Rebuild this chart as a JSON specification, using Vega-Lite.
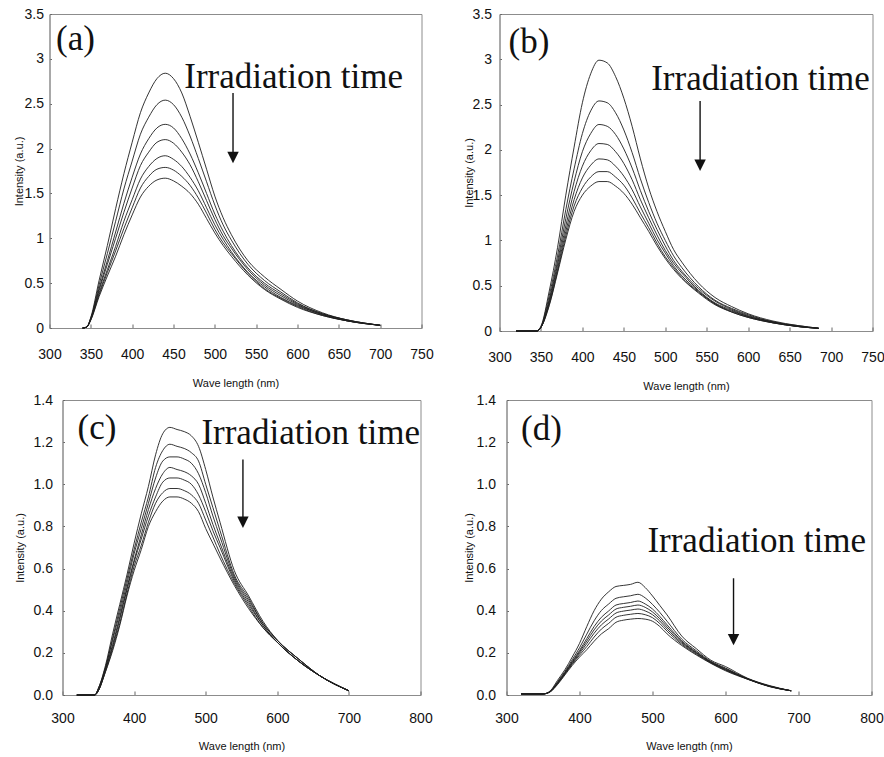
{
"$schema": "https://vega.github.io/schema/vega-lite/v6.json",
"background": "white",
"padding": {"left": -16.5, "top": 6, "right": 0, "bottom": 0},
"config": {
  "view": {"stroke": "#8c8c8c", "strokeWidth": 1},
  "axis": {"grid": false, "domainColor": "#8c8c8c", "tickColor": "#666666", "labelFont": "Liberation Sans", "labelFontSize": 14, "labelColor": "#111111", "titleFont": "Liberation Sans", "titleFontSize": 11, "titleFontWeight": "normal", "titleColor": "#111111", "labelOverlap": false, "labelFlush": false},
  "axisX": {"tickSize": -4, "labelPadding": 23, "titlePadding": 16},
  "axisY": {"tickSize": -2, "labelPadding": 8, "titlePadding": 0}
},
"datasets": {
"a": [
{"t":1,"nm":340,"i":0},{"t":2,"nm":340,"i":0},{"t":3,"nm":340,"i":0},{"t":4,"nm":340,"i":0},{"t":5,"nm":340,"i":0},{"t":6,"nm":340,"i":0},{"t":7,"nm":340,"i":0},
{"t":1,"nm":345,"i":0.01},{"t":2,"nm":345,"i":0.01},{"t":3,"nm":345,"i":0.01},{"t":4,"nm":345,"i":0.01},{"t":5,"nm":345,"i":0.01},{"t":6,"nm":345,"i":0.01},{"t":7,"nm":345,"i":0.01},
{"t":1,"nm":350,"i":0.12},{"t":2,"nm":350,"i":0.11},{"t":3,"nm":350,"i":0.11},{"t":4,"nm":350,"i":0.10},{"t":5,"nm":350,"i":0.10},{"t":6,"nm":350,"i":0.09},{"t":7,"nm":350,"i":0.09},
{"t":1,"nm":360,"i":0.53},{"t":2,"nm":360,"i":0.48},{"t":3,"nm":360,"i":0.44},{"t":4,"nm":360,"i":0.42},{"t":5,"nm":360,"i":0.39},{"t":6,"nm":360,"i":0.37},{"t":7,"nm":360,"i":0.35},
{"t":1,"nm":370,"i":0.92},{"t":2,"nm":370,"i":0.83},{"t":3,"nm":370,"i":0.75},{"t":4,"nm":370,"i":0.71},{"t":5,"nm":370,"i":0.65},{"t":6,"nm":370,"i":0.62},{"t":7,"nm":370,"i":0.58},
{"t":1,"nm":380,"i":1.33},{"t":2,"nm":380,"i":1.19},{"t":3,"nm":380,"i":1.07},{"t":4,"nm":380,"i":1.00},{"t":5,"nm":380,"i":0.91},{"t":6,"nm":380,"i":0.86},{"t":7,"nm":380,"i":0.80},
{"t":1,"nm":390,"i":1.72},{"t":2,"nm":390,"i":1.55},{"t":3,"nm":390,"i":1.39},{"t":4,"nm":390,"i":1.29},{"t":5,"nm":390,"i":1.19},{"t":6,"nm":390,"i":1.11},{"t":7,"nm":390,"i":1.04},
{"t":1,"nm":400,"i":2.07},{"t":2,"nm":400,"i":1.86},{"t":3,"nm":400,"i":1.68},{"t":4,"nm":400,"i":1.56},{"t":5,"nm":400,"i":1.43},{"t":6,"nm":400,"i":1.34},{"t":7,"nm":400,"i":1.26},
{"t":1,"nm":410,"i":2.40},{"t":2,"nm":410,"i":2.16},{"t":3,"nm":410,"i":1.94},{"t":4,"nm":410,"i":1.81},{"t":5,"nm":410,"i":1.66},{"t":6,"nm":410,"i":1.56},{"t":7,"nm":410,"i":1.46},
{"t":1,"nm":420,"i":2.62},{"t":2,"nm":420,"i":2.35},{"t":3,"nm":420,"i":2.11},{"t":4,"nm":420,"i":1.96},{"t":5,"nm":420,"i":1.80},{"t":6,"nm":420,"i":1.69},{"t":7,"nm":420,"i":1.58},
{"t":1,"nm":430,"i":2.78},{"t":2,"nm":430,"i":2.49},{"t":3,"nm":430,"i":2.23},{"t":4,"nm":430,"i":2.07},{"t":5,"nm":430,"i":1.89},{"t":6,"nm":430,"i":1.77},{"t":7,"nm":430,"i":1.65},
{"t":1,"nm":440,"i":2.84},{"t":2,"nm":440,"i":2.54},{"t":3,"nm":440,"i":2.27},{"t":4,"nm":440,"i":2.10},{"t":5,"nm":440,"i":1.92},{"t":6,"nm":440,"i":1.79},{"t":7,"nm":440,"i":1.67},
{"t":1,"nm":450,"i":2.78},{"t":2,"nm":450,"i":2.49},{"t":3,"nm":450,"i":2.23},{"t":4,"nm":450,"i":2.06},{"t":5,"nm":450,"i":1.88},{"t":6,"nm":450,"i":1.76},{"t":7,"nm":450,"i":1.64},
{"t":1,"nm":460,"i":2.62},{"t":2,"nm":460,"i":2.35},{"t":3,"nm":460,"i":2.11},{"t":4,"nm":460,"i":1.96},{"t":5,"nm":460,"i":1.80},{"t":6,"nm":460,"i":1.69},{"t":7,"nm":460,"i":1.58},
{"t":1,"nm":470,"i":2.36},{"t":2,"nm":470,"i":2.14},{"t":3,"nm":470,"i":1.94},{"t":4,"nm":470,"i":1.82},{"t":5,"nm":470,"i":1.68},{"t":6,"nm":470,"i":1.59},{"t":7,"nm":470,"i":1.50},
{"t":1,"nm":480,"i":2.07},{"t":2,"nm":480,"i":1.89},{"t":3,"nm":480,"i":1.73},{"t":4,"nm":480,"i":1.63},{"t":5,"nm":480,"i":1.53},{"t":6,"nm":480,"i":1.45},{"t":7,"nm":480,"i":1.38},
{"t":1,"nm":490,"i":1.77},{"t":2,"nm":490,"i":1.63},{"t":3,"nm":490,"i":1.50},{"t":4,"nm":490,"i":1.42},{"t":5,"nm":490,"i":1.34},{"t":6,"nm":490,"i":1.28},{"t":7,"nm":490,"i":1.22},
{"t":1,"nm":500,"i":1.47},{"t":2,"nm":500,"i":1.37},{"t":3,"nm":500,"i":1.27},{"t":4,"nm":500,"i":1.21},{"t":5,"nm":500,"i":1.15},{"t":6,"nm":500,"i":1.10},{"t":7,"nm":500,"i":1.06},
{"t":1,"nm":510,"i":1.23},{"t":2,"nm":510,"i":1.15},{"t":3,"nm":510,"i":1.08},{"t":4,"nm":510,"i":1.03},{"t":5,"nm":510,"i":0.99},{"t":6,"nm":510,"i":0.95},{"t":7,"nm":510,"i":0.92},
{"t":1,"nm":520,"i":1.04},{"t":2,"nm":520,"i":0.98},{"t":3,"nm":520,"i":0.92},{"t":4,"nm":520,"i":0.89},{"t":5,"nm":520,"i":0.85},{"t":6,"nm":520,"i":0.83},{"t":7,"nm":520,"i":0.80},
{"t":1,"nm":540,"i":0.75},{"t":2,"nm":540,"i":0.71},{"t":3,"nm":540,"i":0.67},{"t":4,"nm":540,"i":0.65},{"t":5,"nm":540,"i":0.62},{"t":6,"nm":540,"i":0.61},{"t":7,"nm":540,"i":0.59},
{"t":1,"nm":560,"i":0.57},{"t":2,"nm":560,"i":0.53},{"t":3,"nm":560,"i":0.50},{"t":4,"nm":560,"i":0.48},{"t":5,"nm":560,"i":0.46},{"t":6,"nm":560,"i":0.44},{"t":7,"nm":560,"i":0.43},
{"t":1,"nm":580,"i":0.43},{"t":2,"nm":580,"i":0.40},{"t":3,"nm":580,"i":0.38},{"t":4,"nm":580,"i":0.36},{"t":5,"nm":580,"i":0.34},{"t":6,"nm":580,"i":0.33},{"t":7,"nm":580,"i":0.32},
{"t":1,"nm":600,"i":0.30},{"t":2,"nm":600,"i":0.28},{"t":3,"nm":600,"i":0.27},{"t":4,"nm":600,"i":0.26},{"t":5,"nm":600,"i":0.25},{"t":6,"nm":600,"i":0.24},{"t":7,"nm":600,"i":0.23},
{"t":1,"nm":630,"i":0.17},{"t":2,"nm":630,"i":0.16},{"t":3,"nm":630,"i":0.16},{"t":4,"nm":630,"i":0.15},{"t":5,"nm":630,"i":0.15},{"t":6,"nm":630,"i":0.14},{"t":7,"nm":630,"i":0.14},
{"t":1,"nm":660,"i":0.09},{"t":2,"nm":660,"i":0.09},{"t":3,"nm":660,"i":0.09},{"t":4,"nm":660,"i":0.08},{"t":5,"nm":660,"i":0.08},{"t":6,"nm":660,"i":0.08},{"t":7,"nm":660,"i":0.08},
{"t":1,"nm":700,"i":0.03},{"t":2,"nm":700,"i":0.03},{"t":3,"nm":700,"i":0.03},{"t":4,"nm":700,"i":0.03},{"t":5,"nm":700,"i":0.03},{"t":6,"nm":700,"i":0.03},{"t":7,"nm":700,"i":0.03}
],
"b": [
{"t":1,"nm":320,"i":0},{"t":2,"nm":320,"i":0},{"t":3,"nm":320,"i":0},{"t":4,"nm":320,"i":0},{"t":5,"nm":320,"i":0},{"t":6,"nm":320,"i":0},{"t":7,"nm":320,"i":0},
{"t":1,"nm":345,"i":0},{"t":2,"nm":345,"i":0},{"t":3,"nm":345,"i":0},{"t":4,"nm":345,"i":0},{"t":5,"nm":345,"i":0},{"t":6,"nm":345,"i":0},{"t":7,"nm":345,"i":0},
{"t":1,"nm":350,"i":0.05},{"t":2,"nm":350,"i":0.05},{"t":3,"nm":350,"i":0.04},{"t":4,"nm":350,"i":0.04},{"t":5,"nm":350,"i":0.04},{"t":6,"nm":350,"i":0.04},{"t":7,"nm":350,"i":0.04},
{"t":1,"nm":360,"i":0.44},{"t":2,"nm":360,"i":0.39},{"t":3,"nm":360,"i":0.35},{"t":4,"nm":360,"i":0.33},{"t":5,"nm":360,"i":0.31},{"t":6,"nm":360,"i":0.29},{"t":7,"nm":360,"i":0.28},
{"t":1,"nm":370,"i":0.92},{"t":2,"nm":370,"i":0.83},{"t":3,"nm":370,"i":0.77},{"t":4,"nm":370,"i":0.73},{"t":5,"nm":370,"i":0.69},{"t":6,"nm":370,"i":0.66},{"t":7,"nm":370,"i":0.64},
{"t":1,"nm":380,"i":1.50},{"t":2,"nm":380,"i":1.34},{"t":3,"nm":380,"i":1.24},{"t":4,"nm":380,"i":1.16},{"t":5,"nm":380,"i":1.10},{"t":6,"nm":380,"i":1.05},{"t":7,"nm":380,"i":1.01},
{"t":1,"nm":390,"i":2.03},{"t":2,"nm":390,"i":1.79},{"t":3,"nm":390,"i":1.65},{"t":4,"nm":390,"i":1.54},{"t":5,"nm":390,"i":1.45},{"t":6,"nm":390,"i":1.38},{"t":7,"nm":390,"i":1.32},
{"t":1,"nm":400,"i":2.52},{"t":2,"nm":400,"i":2.18},{"t":3,"nm":400,"i":1.98},{"t":4,"nm":400,"i":1.82},{"t":5,"nm":400,"i":1.69},{"t":6,"nm":400,"i":1.58},{"t":7,"nm":400,"i":1.50},
{"t":1,"nm":410,"i":2.84},{"t":2,"nm":410,"i":2.43},{"t":3,"nm":410,"i":2.18},{"t":4,"nm":410,"i":1.99},{"t":5,"nm":410,"i":1.83},{"t":6,"nm":410,"i":1.70},{"t":7,"nm":410,"i":1.60},
{"t":1,"nm":420,"i":2.99},{"t":2,"nm":420,"i":2.54},{"t":3,"nm":420,"i":2.28},{"t":4,"nm":420,"i":2.07},{"t":5,"nm":420,"i":1.90},{"t":6,"nm":420,"i":1.76},{"t":7,"nm":420,"i":1.65},
{"t":1,"nm":430,"i":2.96},{"t":2,"nm":430,"i":2.52},{"t":3,"nm":430,"i":2.26},{"t":4,"nm":430,"i":2.06},{"t":5,"nm":430,"i":1.89},{"t":6,"nm":430,"i":1.76},{"t":7,"nm":430,"i":1.65},
{"t":1,"nm":440,"i":2.81},{"t":2,"nm":440,"i":2.41},{"t":3,"nm":440,"i":2.17},{"t":4,"nm":440,"i":1.98},{"t":5,"nm":440,"i":1.82},{"t":6,"nm":440,"i":1.70},{"t":7,"nm":440,"i":1.60},
{"t":1,"nm":450,"i":2.57},{"t":2,"nm":450,"i":2.22},{"t":3,"nm":450,"i":2.01},{"t":4,"nm":450,"i":1.85},{"t":5,"nm":450,"i":1.71},{"t":6,"nm":450,"i":1.61},{"t":7,"nm":450,"i":1.52},
{"t":1,"nm":460,"i":2.26},{"t":2,"nm":460,"i":1.97},{"t":3,"nm":460,"i":1.80},{"t":4,"nm":460,"i":1.67},{"t":5,"nm":460,"i":1.56},{"t":6,"nm":460,"i":1.47},{"t":7,"nm":460,"i":1.40},
{"t":1,"nm":470,"i":1.90},{"t":2,"nm":470,"i":1.68},{"t":3,"nm":470,"i":1.55},{"t":4,"nm":470,"i":1.45},{"t":5,"nm":470,"i":1.37},{"t":6,"nm":470,"i":1.30},{"t":7,"nm":470,"i":1.25},
{"t":1,"nm":480,"i":1.58},{"t":2,"nm":480,"i":1.42},{"t":3,"nm":480,"i":1.32},{"t":4,"nm":480,"i":1.25},{"t":5,"nm":480,"i":1.19},{"t":6,"nm":480,"i":1.14},{"t":7,"nm":480,"i":1.10},
{"t":1,"nm":490,"i":1.32},{"t":2,"nm":490,"i":1.19},{"t":3,"nm":490,"i":1.12},{"t":4,"nm":490,"i":1.06},{"t":5,"nm":490,"i":1.01},{"t":6,"nm":490,"i":0.97},{"t":7,"nm":490,"i":0.94},
{"t":1,"nm":500,"i":1.10},{"t":2,"nm":500,"i":1.00},{"t":3,"nm":500,"i":0.94},{"t":4,"nm":500,"i":0.89},{"t":5,"nm":500,"i":0.86},{"t":6,"nm":500,"i":0.82},{"t":7,"nm":500,"i":0.80},
{"t":1,"nm":510,"i":0.90},{"t":2,"nm":510,"i":0.83},{"t":3,"nm":510,"i":0.78},{"t":4,"nm":510,"i":0.75},{"t":5,"nm":510,"i":0.72},{"t":6,"nm":510,"i":0.70},{"t":7,"nm":510,"i":0.68},
{"t":1,"nm":520,"i":0.76},{"t":2,"nm":520,"i":0.70},{"t":3,"nm":520,"i":0.66},{"t":4,"nm":520,"i":0.64},{"t":5,"nm":520,"i":0.61},{"t":6,"nm":520,"i":0.59},{"t":7,"nm":520,"i":0.58},
{"t":1,"nm":540,"i":0.53},{"t":2,"nm":540,"i":0.49},{"t":3,"nm":540,"i":0.47},{"t":4,"nm":540,"i":0.45},{"t":5,"nm":540,"i":0.44},{"t":6,"nm":540,"i":0.43},{"t":7,"nm":540,"i":0.42},
{"t":1,"nm":560,"i":0.37},{"t":2,"nm":560,"i":0.34},{"t":3,"nm":560,"i":0.33},{"t":4,"nm":560,"i":0.31},{"t":5,"nm":560,"i":0.30},{"t":6,"nm":560,"i":0.30},{"t":7,"nm":560,"i":0.29},
{"t":1,"nm":580,"i":0.27},{"t":2,"nm":580,"i":0.25},{"t":3,"nm":580,"i":0.24},{"t":4,"nm":580,"i":0.23},{"t":5,"nm":580,"i":0.22},{"t":6,"nm":580,"i":0.21},{"t":7,"nm":580,"i":0.21},
{"t":1,"nm":600,"i":0.19},{"t":2,"nm":600,"i":0.18},{"t":3,"nm":600,"i":0.17},{"t":4,"nm":600,"i":0.16},{"t":5,"nm":600,"i":0.16},{"t":6,"nm":600,"i":0.15},{"t":7,"nm":600,"i":0.15},
{"t":1,"nm":630,"i":0.11},{"t":2,"nm":630,"i":0.10},{"t":3,"nm":630,"i":0.10},{"t":4,"nm":630,"i":0.10},{"t":5,"nm":630,"i":0.09},{"t":6,"nm":630,"i":0.09},{"t":7,"nm":630,"i":0.09},
{"t":1,"nm":660,"i":0.06},{"t":2,"nm":660,"i":0.06},{"t":3,"nm":660,"i":0.05},{"t":4,"nm":660,"i":0.05},{"t":5,"nm":660,"i":0.05},{"t":6,"nm":660,"i":0.05},{"t":7,"nm":660,"i":0.05},
{"t":1,"nm":685,"i":0.03},{"t":2,"nm":685,"i":0.03},{"t":3,"nm":685,"i":0.03},{"t":4,"nm":685,"i":0.03},{"t":5,"nm":685,"i":0.03},{"t":6,"nm":685,"i":0.03},{"t":7,"nm":685,"i":0.03}
],
"c": [
{"t":1,"nm":320,"i":0},{"t":2,"nm":320,"i":0},{"t":3,"nm":320,"i":0},{"t":4,"nm":320,"i":0},{"t":5,"nm":320,"i":0},{"t":6,"nm":320,"i":0},{"t":7,"nm":320,"i":0},
{"t":1,"nm":345,"i":0},{"t":2,"nm":345,"i":0},{"t":3,"nm":345,"i":0},{"t":4,"nm":345,"i":0},{"t":5,"nm":345,"i":0},{"t":6,"nm":345,"i":0},{"t":7,"nm":345,"i":0},
{"t":1,"nm":350,"i":0.03},{"t":2,"nm":350,"i":0.03},{"t":3,"nm":350,"i":0.03},{"t":4,"nm":350,"i":0.02},{"t":5,"nm":350,"i":0.02},{"t":6,"nm":350,"i":0.02},{"t":7,"nm":350,"i":0.02},
{"t":1,"nm":360,"i":0.14},{"t":2,"nm":360,"i":0.13},{"t":3,"nm":360,"i":0.13},{"t":4,"nm":360,"i":0.12},{"t":5,"nm":360,"i":0.12},{"t":6,"nm":360,"i":0.11},{"t":7,"nm":360,"i":0.11},
{"t":1,"nm":370,"i":0.29},{"t":2,"nm":370,"i":0.27},{"t":3,"nm":370,"i":0.26},{"t":4,"nm":370,"i":0.24},{"t":5,"nm":370,"i":0.23},{"t":6,"nm":370,"i":0.22},{"t":7,"nm":370,"i":0.21},
{"t":1,"nm":380,"i":0.43},{"t":2,"nm":380,"i":0.41},{"t":3,"nm":380,"i":0.39},{"t":4,"nm":380,"i":0.37},{"t":5,"nm":380,"i":0.36},{"t":6,"nm":380,"i":0.34},{"t":7,"nm":380,"i":0.33},
{"t":1,"nm":390,"i":0.57},{"t":2,"nm":390,"i":0.55},{"t":3,"nm":390,"i":0.53},{"t":4,"nm":390,"i":0.51},{"t":5,"nm":390,"i":0.50},{"t":6,"nm":390,"i":0.48},{"t":7,"nm":390,"i":0.47},
{"t":1,"nm":400,"i":0.72},{"t":2,"nm":400,"i":0.69},{"t":3,"nm":400,"i":0.67},{"t":4,"nm":400,"i":0.64},{"t":5,"nm":400,"i":0.63},{"t":6,"nm":400,"i":0.61},{"t":7,"nm":400,"i":0.59},
{"t":1,"nm":410,"i":0.86},{"t":2,"nm":410,"i":0.82},{"t":3,"nm":410,"i":0.79},{"t":4,"nm":410,"i":0.76},{"t":5,"nm":410,"i":0.74},{"t":6,"nm":410,"i":0.71},{"t":7,"nm":410,"i":0.69},
{"t":1,"nm":420,"i":0.99},{"t":2,"nm":420,"i":0.94},{"t":3,"nm":420,"i":0.91},{"t":4,"nm":420,"i":0.88},{"t":5,"nm":420,"i":0.85},{"t":6,"nm":420,"i":0.82},{"t":7,"nm":420,"i":0.80},
{"t":1,"nm":430,"i":1.14},{"t":2,"nm":430,"i":1.08},{"t":3,"nm":430,"i":1.03},{"t":4,"nm":430,"i":0.98},{"t":5,"nm":430,"i":0.94},{"t":6,"nm":430,"i":0.91},{"t":7,"nm":430,"i":0.87},
{"t":1,"nm":440,"i":1.24},{"t":2,"nm":440,"i":1.16},{"t":3,"nm":440,"i":1.11},{"t":4,"nm":440,"i":1.05},{"t":5,"nm":440,"i":1.01},{"t":6,"nm":440,"i":0.96},{"t":7,"nm":440,"i":0.92},
{"t":1,"nm":450,"i":1.27},{"t":2,"nm":450,"i":1.19},{"t":3,"nm":450,"i":1.13},{"t":4,"nm":450,"i":1.08},{"t":5,"nm":450,"i":1.03},{"t":6,"nm":450,"i":0.98},{"t":7,"nm":450,"i":0.94},
{"t":1,"nm":460,"i":1.26},{"t":2,"nm":460,"i":1.18},{"t":3,"nm":460,"i":1.13},{"t":4,"nm":460,"i":1.07},{"t":5,"nm":460,"i":1.03},{"t":6,"nm":460,"i":0.98},{"t":7,"nm":460,"i":0.94},
{"t":1,"nm":470,"i":1.25},{"t":2,"nm":470,"i":1.17},{"t":3,"nm":470,"i":1.12},{"t":4,"nm":470,"i":1.06},{"t":5,"nm":470,"i":1.02},{"t":6,"nm":470,"i":0.97},{"t":7,"nm":470,"i":0.93},
{"t":1,"nm":480,"i":1.23},{"t":2,"nm":480,"i":1.15},{"t":3,"nm":480,"i":1.10},{"t":4,"nm":480,"i":1.04},{"t":5,"nm":480,"i":1.00},{"t":6,"nm":480,"i":0.95},{"t":7,"nm":480,"i":0.91},
{"t":1,"nm":490,"i":1.18},{"t":2,"nm":490,"i":1.11},{"t":3,"nm":490,"i":1.05},{"t":4,"nm":490,"i":1.00},{"t":5,"nm":490,"i":0.95},{"t":6,"nm":490,"i":0.91},{"t":7,"nm":490,"i":0.87},
{"t":1,"nm":500,"i":1.07},{"t":2,"nm":500,"i":1.00},{"t":3,"nm":500,"i":0.96},{"t":4,"nm":500,"i":0.91},{"t":5,"nm":500,"i":0.87},{"t":6,"nm":500,"i":0.83},{"t":7,"nm":500,"i":0.79},
{"t":1,"nm":510,"i":0.94},{"t":2,"nm":510,"i":0.89},{"t":3,"nm":510,"i":0.85},{"t":4,"nm":510,"i":0.81},{"t":5,"nm":510,"i":0.78},{"t":6,"nm":510,"i":0.75},{"t":7,"nm":510,"i":0.72},
{"t":1,"nm":520,"i":0.82},{"t":2,"nm":520,"i":0.78},{"t":3,"nm":520,"i":0.75},{"t":4,"nm":520,"i":0.72},{"t":5,"nm":520,"i":0.70},{"t":6,"nm":520,"i":0.67},{"t":7,"nm":520,"i":0.65},
{"t":1,"nm":540,"i":0.59},{"t":2,"nm":540,"i":0.57},{"t":3,"nm":540,"i":0.56},{"t":4,"nm":540,"i":0.55},{"t":5,"nm":540,"i":0.54},{"t":6,"nm":540,"i":0.53},{"t":7,"nm":540,"i":0.52},
{"t":1,"nm":560,"i":0.47},{"t":2,"nm":560,"i":0.46},{"t":3,"nm":560,"i":0.45},{"t":4,"nm":560,"i":0.44},{"t":5,"nm":560,"i":0.43},{"t":6,"nm":560,"i":0.42},{"t":7,"nm":560,"i":0.41},
{"t":1,"nm":580,"i":0.35},{"t":2,"nm":580,"i":0.34},{"t":3,"nm":580,"i":0.34},{"t":4,"nm":580,"i":0.33},{"t":5,"nm":580,"i":0.33},{"t":6,"nm":580,"i":0.32},{"t":7,"nm":580,"i":0.32},
{"t":1,"nm":600,"i":0.26},{"t":2,"nm":600,"i":0.26},{"t":3,"nm":600,"i":0.26},{"t":4,"nm":600,"i":0.25},{"t":5,"nm":600,"i":0.25},{"t":6,"nm":600,"i":0.25},{"t":7,"nm":600,"i":0.25},
{"t":1,"nm":630,"i":0.17},{"t":2,"nm":630,"i":0.17},{"t":3,"nm":630,"i":0.17},{"t":4,"nm":630,"i":0.16},{"t":5,"nm":630,"i":0.16},{"t":6,"nm":630,"i":0.16},{"t":7,"nm":630,"i":0.16},
{"t":1,"nm":660,"i":0.09},{"t":2,"nm":660,"i":0.09},{"t":3,"nm":660,"i":0.09},{"t":4,"nm":660,"i":0.09},{"t":5,"nm":660,"i":0.09},{"t":6,"nm":660,"i":0.09},{"t":7,"nm":660,"i":0.09},
{"t":1,"nm":700,"i":0.02},{"t":2,"nm":700,"i":0.02},{"t":3,"nm":700,"i":0.02},{"t":4,"nm":700,"i":0.02},{"t":5,"nm":700,"i":0.02},{"t":6,"nm":700,"i":0.02},{"t":7,"nm":700,"i":0.02}
],
"d": [
{"t":1,"nm":320,"i":0.005},{"t":2,"nm":320,"i":0.005},{"t":3,"nm":320,"i":0.005},{"t":4,"nm":320,"i":0.005},{"t":5,"nm":320,"i":0.005},{"t":6,"nm":320,"i":0.005},{"t":7,"nm":320,"i":0.005},
{"t":1,"nm":350,"i":0.005},{"t":2,"nm":350,"i":0.005},{"t":3,"nm":350,"i":0.005},{"t":4,"nm":350,"i":0.005},{"t":5,"nm":350,"i":0.005},{"t":6,"nm":350,"i":0.005},{"t":7,"nm":350,"i":0.005},
{"t":1,"nm":360,"i":0.02},{"t":2,"nm":360,"i":0.018},{"t":3,"nm":360,"i":0.017},{"t":4,"nm":360,"i":0.017},{"t":5,"nm":360,"i":0.016},{"t":6,"nm":360,"i":0.016},{"t":7,"nm":360,"i":0.015},
{"t":1,"nm":370,"i":0.07},{"t":2,"nm":370,"i":0.063},{"t":3,"nm":370,"i":0.06},{"t":4,"nm":370,"i":0.057},{"t":5,"nm":370,"i":0.055},{"t":6,"nm":370,"i":0.053},{"t":7,"nm":370,"i":0.05},
{"t":1,"nm":380,"i":0.12},{"t":2,"nm":380,"i":0.112},{"t":3,"nm":380,"i":0.107},{"t":4,"nm":380,"i":0.104},{"t":5,"nm":380,"i":0.102},{"t":6,"nm":380,"i":0.099},{"t":7,"nm":380,"i":0.095},
{"t":1,"nm":390,"i":0.18},{"t":2,"nm":390,"i":0.167},{"t":3,"nm":390,"i":0.159},{"t":4,"nm":390,"i":0.155},{"t":5,"nm":390,"i":0.15},{"t":6,"nm":390,"i":0.146},{"t":7,"nm":390,"i":0.14},
{"t":1,"nm":400,"i":0.245},{"t":2,"nm":400,"i":0.224},{"t":3,"nm":400,"i":0.211},{"t":4,"nm":400,"i":0.204},{"t":5,"nm":400,"i":0.197},{"t":6,"nm":400,"i":0.189},{"t":7,"nm":400,"i":0.18},
{"t":1,"nm":410,"i":0.325},{"t":2,"nm":410,"i":0.289},{"t":3,"nm":410,"i":0.268},{"t":4,"nm":410,"i":0.256},{"t":5,"nm":410,"i":0.244},{"t":6,"nm":410,"i":0.23},{"t":7,"nm":410,"i":0.215},
{"t":1,"nm":420,"i":0.40},{"t":2,"nm":420,"i":0.352},{"t":3,"nm":420,"i":0.325},{"t":4,"nm":420,"i":0.309},{"t":5,"nm":420,"i":0.293},{"t":6,"nm":420,"i":0.275},{"t":7,"nm":420,"i":0.255},
{"t":1,"nm":430,"i":0.455},{"t":2,"nm":430,"i":0.401},{"t":3,"nm":430,"i":0.369},{"t":4,"nm":430,"i":0.351},{"t":5,"nm":430,"i":0.333},{"t":6,"nm":430,"i":0.313},{"t":7,"nm":430,"i":0.29},
{"t":1,"nm":440,"i":0.49},{"t":2,"nm":440,"i":0.432},{"t":3,"nm":440,"i":0.399},{"t":4,"nm":440,"i":0.38},{"t":5,"nm":440,"i":0.361},{"t":6,"nm":440,"i":0.34},{"t":7,"nm":440,"i":0.315},
{"t":1,"nm":450,"i":0.515},{"t":2,"nm":450,"i":0.459},{"t":3,"nm":450,"i":0.427},{"t":4,"nm":450,"i":0.408},{"t":5,"nm":450,"i":0.389},{"t":6,"nm":450,"i":0.369},{"t":7,"nm":450,"i":0.345},
{"t":1,"nm":460,"i":0.52},{"t":2,"nm":460,"i":0.466},{"t":3,"nm":460,"i":0.434},{"t":4,"nm":460,"i":0.416},{"t":5,"nm":460,"i":0.398},{"t":6,"nm":460,"i":0.378},{"t":7,"nm":460,"i":0.355},
{"t":1,"nm":470,"i":0.525},{"t":2,"nm":470,"i":0.471},{"t":3,"nm":470,"i":0.439},{"t":4,"nm":470,"i":0.421},{"t":5,"nm":470,"i":0.403},{"t":6,"nm":470,"i":0.383},{"t":7,"nm":470,"i":0.36},
{"t":1,"nm":480,"i":0.535},{"t":2,"nm":480,"i":0.478},{"t":3,"nm":480,"i":0.446},{"t":4,"nm":480,"i":0.427},{"t":5,"nm":480,"i":0.408},{"t":6,"nm":480,"i":0.387},{"t":7,"nm":480,"i":0.363},
{"t":1,"nm":490,"i":0.51},{"t":2,"nm":490,"i":0.461},{"t":3,"nm":490,"i":0.432},{"t":4,"nm":490,"i":0.416},{"t":5,"nm":490,"i":0.399},{"t":6,"nm":490,"i":0.381},{"t":7,"nm":490,"i":0.36},
{"t":1,"nm":500,"i":0.47},{"t":2,"nm":500,"i":0.43},{"t":3,"nm":500,"i":0.408},{"t":4,"nm":500,"i":0.394},{"t":5,"nm":500,"i":0.381},{"t":6,"nm":500,"i":0.367},{"t":7,"nm":500,"i":0.35},
{"t":1,"nm":510,"i":0.425},{"t":2,"nm":510,"i":0.392},{"t":3,"nm":510,"i":0.373},{"t":4,"nm":510,"i":0.362},{"t":5,"nm":510,"i":0.351},{"t":6,"nm":510,"i":0.339},{"t":7,"nm":510,"i":0.325},
{"t":1,"nm":520,"i":0.38},{"t":2,"nm":520,"i":0.35},{"t":3,"nm":520,"i":0.333},{"t":4,"nm":520,"i":0.323},{"t":5,"nm":520,"i":0.313},{"t":6,"nm":520,"i":0.303},{"t":7,"nm":520,"i":0.29},
{"t":1,"nm":540,"i":0.28},{"t":2,"nm":540,"i":0.265},{"t":3,"nm":540,"i":0.257},{"t":4,"nm":540,"i":0.252},{"t":5,"nm":540,"i":0.247},{"t":6,"nm":540,"i":0.241},{"t":7,"nm":540,"i":0.235},
{"t":1,"nm":560,"i":0.22},{"t":2,"nm":560,"i":0.21},{"t":3,"nm":560,"i":0.204},{"t":4,"nm":560,"i":0.201},{"t":5,"nm":560,"i":0.198},{"t":6,"nm":560,"i":0.194},{"t":7,"nm":560,"i":0.19},
{"t":1,"nm":580,"i":0.165},{"t":2,"nm":580,"i":0.16},{"t":3,"nm":580,"i":0.157},{"t":4,"nm":580,"i":0.156},{"t":5,"nm":580,"i":0.154},{"t":6,"nm":580,"i":0.152},{"t":7,"nm":580,"i":0.15},
{"t":1,"nm":600,"i":0.135},{"t":2,"nm":600,"i":0.128},{"t":3,"nm":600,"i":0.125},{"t":4,"nm":600,"i":0.122},{"t":5,"nm":600,"i":0.12},{"t":6,"nm":600,"i":0.118},{"t":7,"nm":600,"i":0.115},
{"t":1,"nm":630,"i":0.08},{"t":2,"nm":630,"i":0.078},{"t":3,"nm":630,"i":0.077},{"t":4,"nm":630,"i":0.077},{"t":5,"nm":630,"i":0.076},{"t":6,"nm":630,"i":0.076},{"t":7,"nm":630,"i":0.075},
{"t":1,"nm":660,"i":0.045},{"t":2,"nm":660,"i":0.043},{"t":3,"nm":660,"i":0.042},{"t":4,"nm":660,"i":0.042},{"t":5,"nm":660,"i":0.041},{"t":6,"nm":660,"i":0.041},{"t":7,"nm":660,"i":0.04},
{"t":1,"nm":690,"i":0.02},{"t":2,"nm":690,"i":0.02},{"t":3,"nm":690,"i":0.02},{"t":4,"nm":690,"i":0.02},{"t":5,"nm":690,"i":0.02},{"t":6,"nm":690,"i":0.02},{"t":7,"nm":690,"i":0.02}
]
},
"spacing": 0,
"vconcat": [
{"spacing": 28, "hconcat": [
 {"width": 1, "height": 1, "view": {"stroke": null}, "data": {"values": []}, "mark": {"type": "point", "opacity": 0}, "encoding": {}},
 {"width": 372, "height": 314, "layer": [
  {"data": {"name": "a"}, "mark": {"type": "line", "interpolate": "monotone", "stroke": "#1e1e1e", "strokeWidth": 0.9},
   "encoding": {
    "x": {"field": "nm", "type": "quantitative", "scale": {"domain": [300, 750], "nice": false}, "axis": {"values": [300,350,400,450,500,550,600,650,700,750], "title": "Wave length (nm)"}},
    "y": {"field": "i", "type": "quantitative", "scale": {"domain": [0, 3.5], "nice": false}, "axis": {"values": [0,0.5,1,1.5,2,2.5,3,3.5], "format": "~g", "title": "Intensity (a.u.)", "labelPadding": 8, "titlePadding": 0}},
    "detail": {"field": "t", "type": "nominal"}}},
  {"data": {"values": [{"nm": 308, "i": 3.1, "label": "(a)"}, {"nm": 463, "i": 2.68, "label": "Irradiation time"}]},
   "mark": {"type": "text", "align": "left", "baseline": "alphabetic", "font": "Liberation Serif", "fontSize": 35, "color": "#111111"},
   "encoding": {"x": {"field": "nm", "type": "quantitative"}, "y": {"field": "i", "type": "quantitative"}, "text": {"field": "label"}}},
  {"data": {"values": [{"nm": 522, "i": 2.62, "i2": 1.9}]}, "mark": {"type": "rule", "color": "#111111", "strokeWidth": 1.4},
   "encoding": {"x": {"field": "nm", "type": "quantitative"}, "y": {"field": "i", "type": "quantitative"}, "y2": {"field": "i2"}}},
  {"data": {"values": [{"nm": 522, "i": 1.9}]}, "mark": {"type": "point", "shape": "M-1,-1L1,-1L0,1Z", "filled": true, "size": 130, "color": "#111111", "opacity": 1},
   "encoding": {"x": {"field": "nm", "type": "quantitative"}, "y": {"field": "i", "type": "quantitative"}}}
 ]},
 {"width": 373, "height": 317, "layer": [
  {"data": {"name": "b"}, "mark": {"type": "line", "interpolate": "monotone", "stroke": "#1e1e1e", "strokeWidth": 0.9},
   "encoding": {
    "x": {"field": "nm", "type": "quantitative", "scale": {"domain": [300, 750], "nice": false}, "axis": {"values": [300,350,400,450,500,550,600,650,700,750], "title": "Wave length (nm)"}},
    "y": {"field": "i", "type": "quantitative", "scale": {"domain": [0, 3.5], "nice": false}, "axis": {"values": [0,0.5,1,1.5,2,2.5,3,3.5], "format": "~g", "title": "Intensity (a.u.)", "labelPadding": 10, "titlePadding": -2}},
    "detail": {"field": "t", "type": "nominal"}}},
  {"data": {"values": [{"nm": 311, "i": 3.07, "label": "(b)"}, {"nm": 483, "i": 2.66, "label": "Irradiation time"}]},
   "mark": {"type": "text", "align": "left", "baseline": "alphabetic", "font": "Liberation Serif", "fontSize": 35, "color": "#111111"},
   "encoding": {"x": {"field": "nm", "type": "quantitative"}, "y": {"field": "i", "type": "quantitative"}, "text": {"field": "label"}}},
  {"data": {"values": [{"nm": 542, "i": 2.54, "i2": 1.83}]}, "mark": {"type": "rule", "color": "#111111", "strokeWidth": 1.4},
   "encoding": {"x": {"field": "nm", "type": "quantitative"}, "y": {"field": "i", "type": "quantitative"}, "y2": {"field": "i2"}}},
  {"data": {"values": [{"nm": 542, "i": 1.83}]}, "mark": {"type": "point", "shape": "M-1,-1L1,-1L0,1Z", "filled": true, "size": 130, "color": "#111111", "opacity": 1},
   "encoding": {"x": {"field": "nm", "type": "quantitative"}, "y": {"field": "i", "type": "quantitative"}}}
 ]}
]},
{"spacing": 29, "hconcat": [
 {"width": 1, "height": 1, "view": {"stroke": null}, "data": {"values": []}, "mark": {"type": "point", "opacity": 0}, "encoding": {}},
 {"width": 358, "height": 295, "layer": [
  {"data": {"name": "c"}, "mark": {"type": "line", "interpolate": "monotone", "stroke": "#1e1e1e", "strokeWidth": 0.9},
   "encoding": {
    "x": {"field": "nm", "type": "quantitative", "scale": {"domain": [300, 800], "nice": false}, "axis": {"values": [300,400,500,600,700,800], "title": "Wave length (nm)", "labelPadding": 20, "titlePadding": 15}},
    "y": {"field": "i", "type": "quantitative", "scale": {"domain": [0, 1.4], "nice": false}, "axis": {"values": [0,0.2,0.4,0.6,0.8,1.0,1.2,1.4], "format": ".1f", "title": "Intensity (a.u.)", "labelPadding": 12, "titlePadding": 8}},
    "detail": {"field": "t", "type": "nominal"}}},
  {"data": {"values": [{"nm": 321, "i": 1.216, "label": "(c)"}, {"nm": 494, "i": 1.19, "label": "Irradiation time"}]},
   "mark": {"type": "text", "align": "left", "baseline": "alphabetic", "font": "Liberation Serif", "fontSize": 35, "color": "#111111"},
   "encoding": {"x": {"field": "nm", "type": "quantitative"}, "y": {"field": "i", "type": "quantitative"}, "text": {"field": "label"}}},
  {"data": {"values": [{"nm": 552, "i": 1.118, "i2": 0.82}]}, "mark": {"type": "rule", "color": "#111111", "strokeWidth": 1.4},
   "encoding": {"x": {"field": "nm", "type": "quantitative"}, "y": {"field": "i", "type": "quantitative"}, "y2": {"field": "i2"}}},
  {"data": {"values": [{"nm": 552, "i": 0.82}]}, "mark": {"type": "point", "shape": "M-1,-1L1,-1L0,1Z", "filled": true, "size": 130, "color": "#111111", "opacity": 1},
   "encoding": {"x": {"field": "nm", "type": "quantitative"}, "y": {"field": "i", "type": "quantitative"}}}
 ]},
 {"width": 365, "height": 295, "layer": [
  {"data": {"name": "d"}, "mark": {"type": "line", "interpolate": "monotone", "stroke": "#1e1e1e", "strokeWidth": 0.9},
   "encoding": {
    "x": {"field": "nm", "type": "quantitative", "scale": {"domain": [300, 800], "nice": false}, "axis": {"values": [300,400,500,600,700,800], "title": "Wave length (nm)", "labelPadding": 20, "titlePadding": 15}},
    "y": {"field": "i", "type": "quantitative", "scale": {"domain": [0, 1.4], "nice": false}, "axis": {"values": [0,0.2,0.4,0.6,0.8,1.0,1.2,1.4], "format": ".1f", "title": "Intensity (a.u.)", "labelPadding": 13, "titlePadding": 2}},
    "detail": {"field": "t", "type": "nominal"}}},
  {"data": {"values": [{"nm": 320, "i": 1.208, "label": "(d)"}, {"nm": 493, "i": 0.681, "label": "Irradiation time"}]},
   "mark": {"type": "text", "align": "left", "baseline": "alphabetic", "font": "Liberation Serif", "fontSize": 35, "color": "#111111"},
   "encoding": {"x": {"field": "nm", "type": "quantitative"}, "y": {"field": "i", "type": "quantitative"}, "text": {"field": "label"}}},
  {"data": {"values": [{"nm": 611, "i": 0.554, "i2": 0.263}]}, "mark": {"type": "rule", "color": "#111111", "strokeWidth": 1.4},
   "encoding": {"x": {"field": "nm", "type": "quantitative"}, "y": {"field": "i", "type": "quantitative"}, "y2": {"field": "i2"}}},
  {"data": {"values": [{"nm": 611, "i": 0.263}]}, "mark": {"type": "point", "shape": "M-1,-1L1,-1L0,1Z", "filled": true, "size": 130, "color": "#111111", "opacity": 1},
   "encoding": {"x": {"field": "nm", "type": "quantitative"}, "y": {"field": "i", "type": "quantitative"}}}
 ]}
]}
]
}
